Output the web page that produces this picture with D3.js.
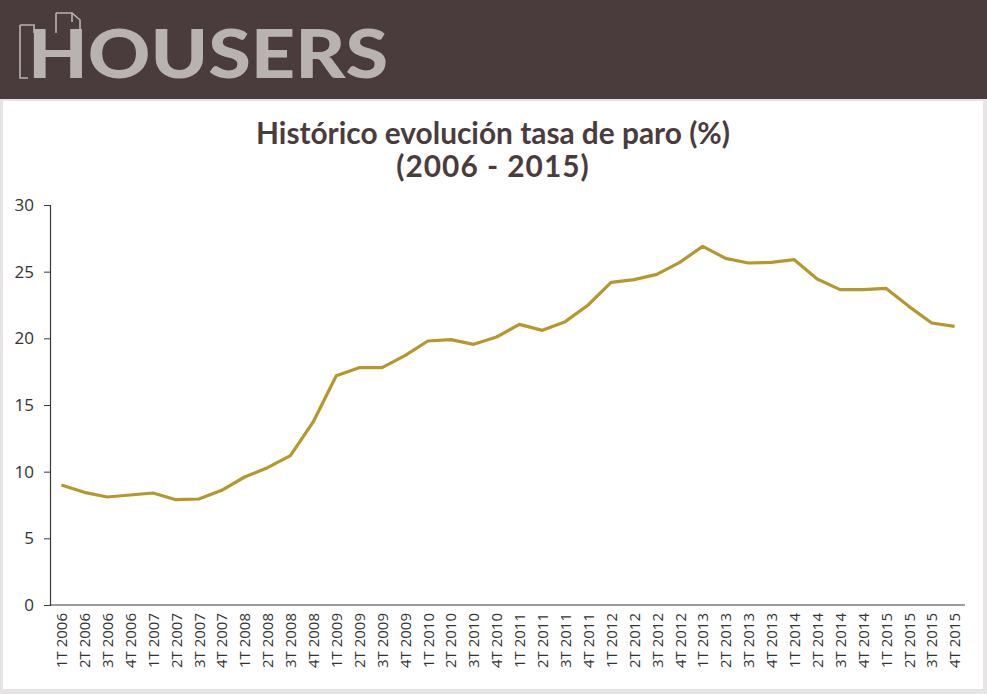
<!DOCTYPE html>
<html><head><meta charset="utf-8">
<script src="https://cdn.jsdelivr.net/npm/d3@7"></script>
<style>body{margin:0;background:#fff}svg{display:block}</style>
</head><body>
<svg id="c" width="987" height="694"></svg>
<script>
const categories = ["1T 2006","2T 2006","3T 2006","4T 2006","1T 2007","2T 2007","3T 2007","4T 2007",
"1T 2008","2T 2008","3T 2008","4T 2008","1T 2009","2T 2009","3T 2009","4T 2009",
"1T 2010","2T 2010","3T 2010","4T 2010","1T 2011","2T 2011","3T 2011","4T 2011",
"1T 2012","2T 2012","3T 2012","4T 2012","1T 2013","2T 2013","3T 2013","4T 2013",
"1T 2014","2T 2014","3T 2014","4T 2014","1T 2015","2T 2015","3T 2015","4T 2015"];
const paro = [9.0,8.45,8.1,8.25,8.4,7.9,7.95,8.6,
9.6,10.3,11.2,13.75,17.2,17.8,17.8,18.7,
19.8,19.9,19.55,20.1,21.05,20.6,21.25,22.5,
24.2,24.4,24.8,25.7,26.9,26.0,25.65,25.7,
25.9,24.45,23.65,23.65,23.75,22.4,21.15,20.9];
const yTicks = [0,5,10,15,20,25,30];
const titleLines = ["Histórico evolución tasa de paro (%)","(2006 - 2015)"];

const svg = d3.select("#c");
const brown = "#4a3c3d";
// frame
svg.append("rect").attr("x",0).attr("y",0).attr("width",987).attr("height",694).attr("fill","#e6e4e4");
svg.append("rect").attr("x",3).attr("y",101).attr("width",980).attr("height",588).attr("fill","#fff");
svg.append("rect").attr("x",0).attr("y",0).attr("width",987).attr("height",99).attr("fill",brown);

// logo
const logo = svg.append("g");
const lg = "#b8b3b1";
logo.append("path").attr("fill","none").attr("stroke",lg).attr("stroke-width",1.6)
  .attr("d","M20,25 L34,25 L34,33 M20,25 L20,78 L28,78 M56,13 L56,33 M56,13 L72,13 L80,20 L80,30 M72,13 L72,22");
logo.append("text").attr("x",28).attr("y",78).attr("fill",lg)
  .attr("font-family","Lato, 'DejaVu Sans', sans-serif").attr("font-weight",900)
  .attr("font-size",66).text("HOUSERS")
  .attr("textLength",360).attr("lengthAdjust","spacingAndGlyphs");

// title
const ty = [144, 177];
const t0 = svg.append("text").attr("x",493).attr("y",ty[0]).attr("text-anchor","middle")
  .attr("fill",brown).attr("font-family","Lato, 'Open Sans', sans-serif").attr("font-weight",700)
  .attr("font-size",28).text(titleLines[0]);
const fs = 28*474/t0.node().getComputedTextLength();
t0.attr("font-size", fs);
svg.append("text").attr("x",493).attr("y",ty[1]).attr("text-anchor","middle")
  .attr("fill",brown).attr("font-family","Lato, 'Open Sans', sans-serif").attr("font-weight",700)
  .attr("font-size",fs).attr("letter-spacing",1).text(titleLines[1]);

const x = d3.scalePoint().domain(categories).range([61.4,954.6]);
const y = d3.scaleLinear().domain([0,30]).range([605,205]);

const font = "'Open Sans', 'DejaVu Sans', sans-serif";
const yAxis = svg.append("g").attr("transform","translate(50,0)")
  .call(d3.axisLeft(y).tickValues(yTicks).tickSize(6).tickPadding(10));
yAxis.select(".domain").attr("stroke","#3a3a3a").attr("stroke-width",1.2);
yAxis.selectAll(".tick line").attr("stroke","#3a3a3a");
yAxis.selectAll("text").attr("font-family",font).attr("font-size",17).attr("fill","#333");

const xAxis = svg.append("g").attr("transform","translate(0,605)")
  .call(d3.axisBottom(x).tickSize(0).tickPadding(0));
xAxis.select(".domain").attr("d","M50,0H965").attr("stroke","#3a3a3a").attr("stroke-width",1.2);
xAxis.selectAll("text").attr("font-family",font).attr("font-size",15).attr("fill","#333")
  .attr("text-anchor","end").attr("dy","0.35em")
  .attr("transform","translate(0,8) rotate(-90)").attr("x",0).attr("y",0);

svg.append("path").datum(paro).attr("fill","none").attr("stroke","#b5982b").attr("stroke-width",3.2)
  .attr("stroke-linejoin","round")
  .attr("d", d3.line().x((d,i)=>x(categories[i])).y(d=>y(d)));
</script>
</body></html>
